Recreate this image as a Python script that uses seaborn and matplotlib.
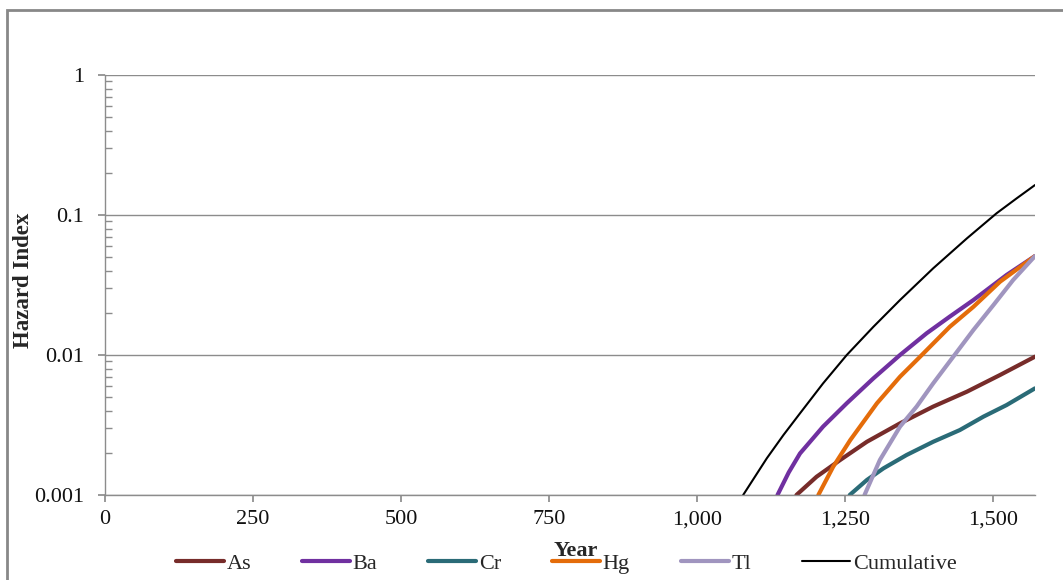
import numpy as np
import pandas as pd
import matplotlib
matplotlib.use("Agg")
import matplotlib.pyplot as plt
import seaborn as sns
from matplotlib.patches import Rectangle
from matplotlib.lines import Line2D
from matplotlib.ticker import FixedLocator, LogLocator, NullFormatter, FuncFormatter

# ---- data ----
cum_year = [1078, 1118, 1146, 1174, 1213, 1253, 1298, 1343, 1399, 1456, 1506, 1540, 1571]
cum_val = [0.001, 0.00183, 0.00268, 0.00383, 0.00627, 0.0100, 0.0159, 0.0247, 0.0416,
           0.0681, 0.1028, 0.1315, 0.1637]

ba_year = [1136, 1155, 1174, 1213, 1253, 1298, 1343, 1388, 1427, 1467, 1523, 1571]
ba_val = [0.001, 0.00145, 0.00198, 0.00308, 0.00452, 0.00681, 0.0100, 0.0143, 0.0188,
          0.0247, 0.0373, 0.0509]

hg_year = [1205, 1230, 1259, 1304, 1343, 1377, 1427, 1467, 1512, 1571]
hg_val = [0.001, 0.00159, 0.00247, 0.00452, 0.00700, 0.00973, 0.0159, 0.0221, 0.0334, 0.0509]

tl_year = [1283, 1309, 1343, 1371, 1399, 1433, 1467, 1501, 1534, 1571]
tl_val = [0.001, 0.00178, 0.00308, 0.00428, 0.00627, 0.00973, 0.0151, 0.0228, 0.0343, 0.0509]

as_year = [1168, 1202, 1242, 1287, 1343, 1399, 1456, 1512, 1571]
as_val = [0.001, 0.00135, 0.00178, 0.00240, 0.00325, 0.00428, 0.00547, 0.00720, 0.00973]

cr_year = [1258, 1287, 1315, 1354, 1399, 1444, 1484, 1523, 1571]
cr_val = [0.001, 0.00128, 0.00155, 0.00193, 0.00240, 0.00291, 0.00363, 0.00439, 0.00578]

series_names = ["As", "Ba", "Cr", "Hg", "Tl", "Cumulative"]
series_colors = ["#772C2A", "#7030A0", "#2A6B77", "#E46C0A", "#A095BF", "#000000"]
series_widths = [3.0, 3.0, 3.0, 3.0, 3.0, 1.5]

x_ticks = [0, 250, 500, 750, 1000, 1250, 1500]
y_ticks = [0.001, 0.01, 0.1, 1]
y_tick_labels = ["0.001", "0.01", "0.1", "1"]

data = {
    "As": (as_year, as_val),
    "Ba": (ba_year, ba_val),
    "Cr": (cr_year, cr_val),
    "Hg": (hg_year, hg_val),
    "Tl": (tl_year, tl_val),
    "Cumulative": (cum_year, cum_val),
}

rows = []
for name in series_names:
    yrs, vals = data[name]
    for y, v in zip(yrs, vals):
        rows.append({"Year": y, "Hazard Index": v, "Series": name})
df = pd.DataFrame(rows)

sns.set_theme(style="white")
plt.rcParams["font.family"] = ["Liberation Serif", "DejaVu Serif"]

fig = plt.figure(figsize=(10.63, 5.80), dpi=100)
ax = fig.add_axes([105 / 1063, 1 - 495 / 580, 930 / 1063, 420 / 580])

sns.lineplot(
    data=df, x="Year", y="Hazard Index", hue="Series", hue_order=series_names,
    palette=dict(zip(series_names, series_colors)), size="Series",
    sizes=dict(zip(series_names, series_widths)), size_order=series_names,
    ax=ax, legend=False, estimator=None, sort=True,
)
for ln in ax.get_lines():
    ln.set_solid_joinstyle("round")
    ln.set_solid_capstyle("round")

ax.set_yscale("log")
ax.set_xlim(0, 1571)
ax.set_ylim(0.001, 1)

gray = "#8C8C8C"
for y in y_ticks:
    ax.axhline(y, color=gray, lw=1.0, zorder=0)

ax.xaxis.set_major_locator(FixedLocator(x_ticks))
ax.xaxis.set_major_formatter(FuncFormatter(lambda v, p: f"{int(round(v)):,}"))
ax.yaxis.set_major_locator(FixedLocator(y_ticks))
ax.yaxis.set_major_formatter(FuncFormatter(
    lambda v, p: y_tick_labels[int(np.argmin([abs(np.log10(t) - np.log10(v)) for t in y_ticks]))]))
ax.yaxis.set_minor_locator(LogLocator(base=10, subs=np.arange(2, 10), numticks=20))
ax.yaxis.set_minor_formatter(NullFormatter())

for s in ["top", "right"]:
    ax.spines[s].set_visible(False)
for s in ["left", "bottom"]:
    ax.spines[s].set_color(gray)
    ax.spines[s].set_linewidth(1.0)

fs = 16
ax.tick_params(axis="x", which="major", direction="out", length=5, color=gray,
               labelsize=fs, pad=6, bottom=True, labelcolor="#111111")
ax.tick_params(axis="y", which="major", direction="out", length=5, color=gray,
               labelsize=fs, pad=10, left=True, labelcolor="#111111")
ax.tick_params(axis="y", which="minor", direction="in", length=5, color=gray, left=True)

ax.set_xlabel("Year", fontsize=fs, fontweight="bold")
ax.xaxis.set_label_coords((576 - 105) / 930, (495 - 551) / 420)
ax.xaxis.label.set_va("center")
ax.set_ylabel("Hazard Index", fontsize=16.5, fontweight="bold")
ax.yaxis.set_label_coords((24 - 105) / 930, (495 - 280) / 420)
ax.yaxis.label.set_va("center")

handles = [Line2D([0], [0], color=c, lw=w, solid_capstyle="round")
           for c, w in zip(series_colors, series_widths)]
fig.legend(handles, series_names, loc="center left", bbox_to_anchor=(176 / 1063, 1 - 564 / 580),
           ncol=6, frameon=False, fontsize=fs, handlelength=2.15, handletextpad=0.12,
           columnspacing=2.3, borderaxespad=0, borderpad=0)

fig.patches.append(Rectangle((7 / 1063, -0.1), 1.2, 1 - 10 / 580 + 0.1,
                             transform=fig.transFigure, fill=False,
                             edgecolor="#888888", lw=2, zorder=10))

fig.savefig("out.png", dpi=100)
